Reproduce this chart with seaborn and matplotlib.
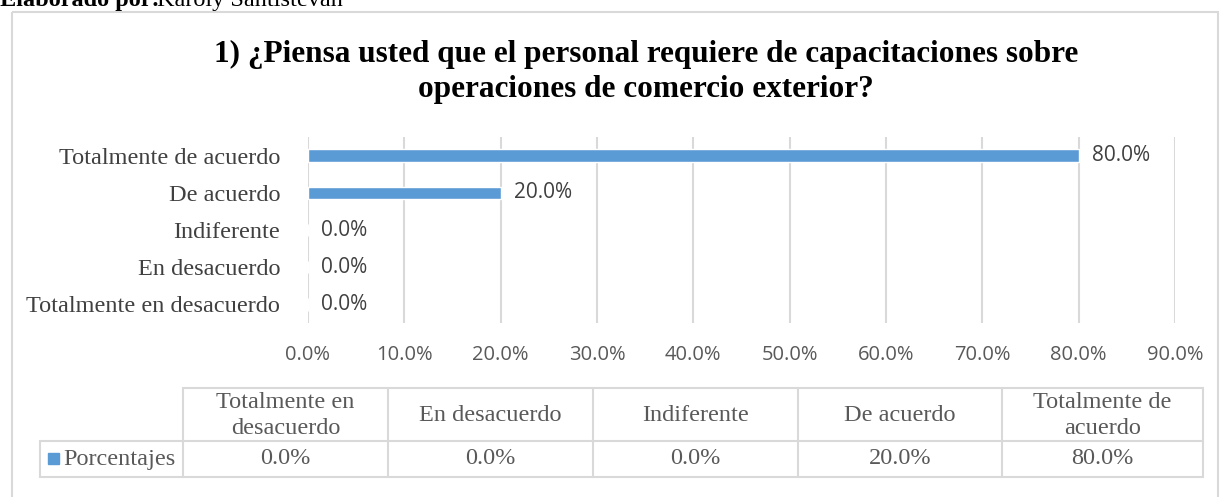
import numpy as np
import pandas as pd
import matplotlib
matplotlib.use("Agg")
import matplotlib.pyplot as plt
import seaborn as sns
from matplotlib.patches import Rectangle

# DATA (top to bottom as drawn in the bar chart)
categories = ["Totalmente de acuerdo", "De acuerdo", "Indiferente",
              "En desacuerdo", "Totalmente en desacuerdo"]
percentages = [80.0, 20.0, 0.0, 0.0, 0.0]

# data table under the chart (left to right)
table_headers = ["Totalmente en\ndesacuerdo", "En desacuerdo", "Indiferente",
                 "De acuerdo", "Totalmente de\nacuerdo"]
table_values = [0.0, 0.0, 0.0, 20.0, 80.0]
series_name = "Porcentajes"

title_text = ("1) ¿Piensa usted que el personal requiere de capacitaciones sobre\n"
              "operaciones de comercio exterior?")

BAR_COLOR = "#5B9BD5"
GRID_COLOR = "#D9D9D9"
SERIF = "Liberation Serif"
SANS = "Open Sans"

W, H = 1221, 497


def make_chart():
    sns.set_style("white")
    fig = plt.figure(figsize=(W / 100, H / 100), dpi=100)

    # background canvas in pixel coordinates (frame, title, table)
    bg = fig.add_axes([0, 0, 1, 1], zorder=0)
    bg.set_xlim(0, W)
    bg.set_ylim(H, 0)
    bg.axis("off")

    # "Elaborado por:" caption, cut at the top edge like in the source image
    bg.text(0, 6, "Elaborado por:", fontfamily=SERIF, fontweight="bold",
            fontsize=17.5, color="black", va="baseline", ha="left")
    bg.text(157, 6, "Karoly Santistevan", fontfamily=SERIF,
            fontsize=17.5, color="black", va="baseline", ha="left")

    # chart frame
    bg.add_patch(Rectangle((11.5, 11.5), 1206, 500, fill=False,
                           edgecolor=GRID_COLOR, lw=1.5))

    # title
    bg.text(646, 72, title_text, fontfamily=SERIF, fontweight="bold",
            fontsize=22.5, color="black", ha="center", va="center",
            linespacing=1.3)

    # bar chart
    left, right, top, bottom = 308, 1175, 137, 323
    ax = fig.add_axes([left / W, 1 - bottom / H, (right - left) / W, (bottom - top) / H],
                      zorder=1)
    ax.patch.set_alpha(0)
    df = pd.DataFrame({"cat": categories, "pct": percentages})
    sns.barplot(data=df, y="cat", x="pct", order=categories, color=BAR_COLOR,
                saturation=1, width=0.33, orient="h", ax=ax)
    ax.set_xlim(0, 90)
    ax.set_xticks(np.arange(0, 91, 10))
    ax.set_xticklabels([f"{t:.1f}%" for t in np.arange(0, 91, 10)],
                       fontfamily=SANS, fontsize=14.5, color="#595959")
    ax.set_yticks(range(len(categories)))
    ax.set_yticklabels(categories, fontfamily=SERIF, fontsize=17.5, color="#404040")
    ax.tick_params(axis="both", length=0)
    ax.tick_params(axis="x", pad=16)
    ax.tick_params(axis="y", pad=20)
    ax.set_xlabel("")
    ax.set_ylabel("")
    for s in ax.spines.values():
        s.set_visible(False)
    ax.grid(axis="x", color=GRID_COLOR, lw=1.5)
    ax.set_axisbelow(True)
    for i, v in enumerate(percentages):
        ax.text(v + 1.4, i, f"{v:.1f}%", fontfamily=SANS, fontsize=15,
                color="#404040", va="center", ha="left")

    # data table
    col_x = [183, 388, 593, 798, 1002, 1203]
    y_top, y_mid, y_bot = 388, 441, 477
    lg_left = 40
    lkw = dict(color=GRID_COLOR, lw=1.5)
    bg.plot([col_x[0], col_x[-1]], [y_top, y_top], **lkw)
    bg.plot([lg_left, col_x[-1]], [y_mid, y_mid], **lkw)
    bg.plot([lg_left, col_x[-1]], [y_bot, y_bot], **lkw)
    bg.plot([lg_left, lg_left], [y_mid, y_bot], **lkw)
    for x in col_x:
        bg.plot([x, x], [y_top, y_bot], **lkw)
    for i, (hdr, val) in enumerate(zip(table_headers, table_values)):
        cx = (col_x[i] + col_x[i + 1]) / 2
        bg.text(cx, (y_top + y_mid) / 2 + 1, hdr, fontfamily=SERIF, fontsize=17.5,
                color="#595959", ha="center", va="center", linespacing=1.25)
        bg.text(cx, (y_mid + y_bot) / 2, f"{val:.1f}%", fontfamily=SERIF,
                fontsize=17.5, color="#595959", ha="center", va="center")
    bg.add_patch(Rectangle((48, 453), 11, 11, color=BAR_COLOR))
    bg.text(63, (y_mid + y_bot) / 2, series_name, fontfamily=SERIF, fontsize=17.5,
            color="#595959", ha="left", va="center")

    fig.savefig("out.png", dpi=100)


if __name__ == "__main__":
    make_chart()
